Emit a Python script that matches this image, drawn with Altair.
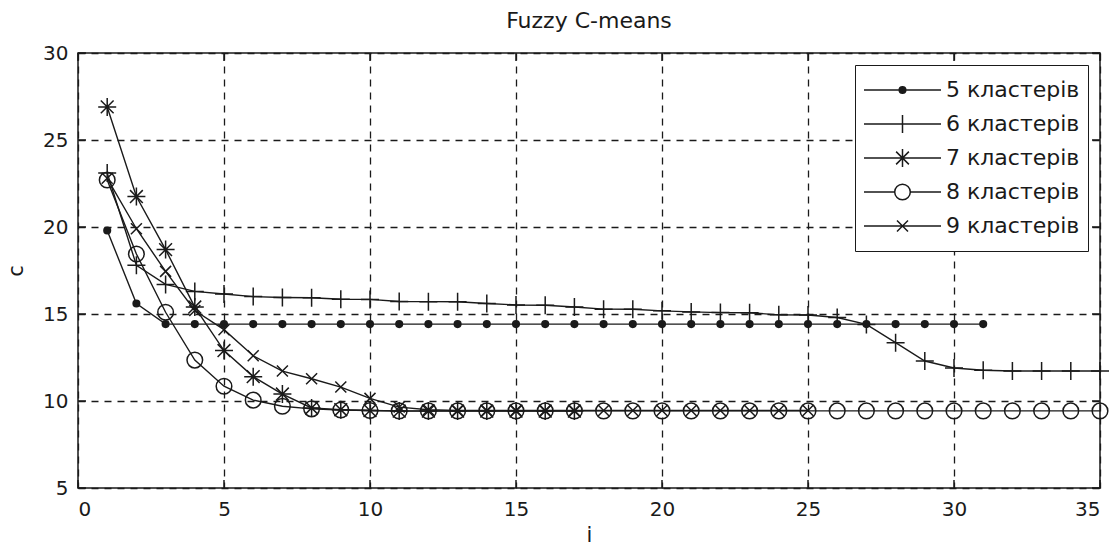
import altair as alt
import pandas as pd

# ---------------- data ----------------
series_names = ["5 кластерів", "6 кластерів", "7 кластерів", "8 кластерів", "9 кластерів"]

iter_5 = list(range(1, 32))
vals_5 = [19.8, 15.6, 14.42, 14.42, 14.42, 14.42, 14.42, 14.42, 14.42, 14.42,
          14.42, 14.42, 14.42, 14.42, 14.42, 14.42, 14.42, 14.42, 14.42, 14.42,
          14.42, 14.42, 14.42, 14.42, 14.42, 14.42, 14.42, 14.42, 14.42, 14.42,
          14.42]

iter_6 = list(range(1, 36))
vals_6 = [23.1, 17.8, 16.7, 16.3, 16.15, 16.0, 15.95, 15.93, 15.85, 15.84,
          15.72, 15.71, 15.7, 15.6, 15.52, 15.5, 15.4, 15.28, 15.27, 15.18,
          15.12, 15.08, 15.07, 14.95, 14.94, 14.8, 14.4, 13.35, 12.3, 11.9,
          11.77, 11.72, 11.72, 11.72, 11.72]

iter_7 = list(range(1, 18))
vals_7 = [26.9, 21.75, 18.7, 15.4, 12.9, 11.4, 10.4, 9.6, 9.5, 9.45,
          9.42, 9.42, 9.42, 9.42, 9.42, 9.42, 9.42]

iter_8 = list(range(1, 36))
vals_8 = [22.7, 18.45, 15.1, 12.35, 10.85, 10.05, 9.7, 9.55, 9.48, 9.45,
          9.43, 9.43, 9.43, 9.43, 9.43, 9.43, 9.43, 9.43, 9.43, 9.43,
          9.43, 9.43, 9.43, 9.43, 9.43, 9.43, 9.43, 9.43, 9.43, 9.43,
          9.43, 9.43, 9.43, 9.43, 9.43]

iter_9 = list(range(1, 26))
vals_9 = [22.8, 19.9, 17.45, 15.2, 14.1, 12.6, 11.72, 11.28, 10.8, 10.15,
          9.65, 9.5, 9.45, 9.45, 9.45, 9.45, 9.45, 9.45, 9.45, 9.45,
          9.45, 9.45, 9.45, 9.45, 9.45]

x_ticks = [0, 5, 10, 15, 20, 25, 30, 35]
y_ticks = [5, 10, 15, 20, 25, 30]

# ---------------- marker shapes (unit paths) ----------------
def ring(r):
    return f"M{-r},0A{r},{r} 0 1,0 {r},0A{r},{r} 0 1,0 {-r},0Z"

marker_paths = [
    ring(0.33) + ring(0.2) + ring(0.08),
    "M-0.9,0H0.9M0,-0.9V0.9",
    "M-0.9,0H0.9M0,-0.9V0.9M-0.64,-0.64L0.64,0.64M-0.64,0.64L0.64,-0.64",
    ring(0.78),
    "M-0.55,-0.55L0.55,0.55M-0.55,0.55L0.55,-0.55",
]
k = 10 / 38.5
legend_paths = [
    "M-1,0H1" + ring(0.33 * k) + ring(0.2 * k) + ring(0.08 * k),
    f"M-1,0H1M0,{-0.9*k}V{0.9*k}",
    f"M-1,0H1M0,{-0.9*k}V{0.9*k}M{-0.64*k},{-0.64*k}L{0.64*k},{0.64*k}M{-0.64*k},{0.64*k}L{0.64*k},{-0.64*k}",
    "M-1,0H" + str(-0.78 * k) + ring(0.78 * k) + "M" + str(0.78 * k) + ",0H1",
    f"M-1,0H1M{-0.55*k},{-0.55*k}L{0.55*k},{0.55*k}M{-0.55*k},{0.55*k}L{0.55*k},{-0.55*k}",
]

rows = []
for name, its, vals in zip(series_names,
                           [iter_5, iter_6, iter_7, iter_8, iter_9],
                           [vals_5, vals_6, vals_7, vals_8, vals_9]):
    for i, v in zip(its, vals):
        rows.append({"i": i, "c": v, "series": name})
df = pd.DataFrame(rows)
xt = pd.DataFrame({"i": x_ticks})
yt = pd.DataFrame({"c": y_ticks})

FONT = "DejaVu Sans, Liberation Sans, Arial, sans-serif"
W, H = 1022, 435
INK = "#1a1a1a"

xscale = alt.Scale(domain=[0, 35], nice=False, zero=False)
yscale = alt.Scale(domain=[5, 30], nice=False, zero=False)
xaxis = alt.Axis(values=x_ticks, title="i", labelPadding=11, titlePadding=5,
                 grid=True, ticks=False, domain=False)
yaxis = alt.Axis(values=y_ticks, title="c", labelPadding=10, titlePadding=16,
                 grid=True, ticks=False, domain=False)

def X(field="i"):
    return alt.X(f"{field}:Q", scale=xscale, axis=xaxis, title="i")

def Y(field="c"):
    return alt.Y(f"{field}:Q", scale=yscale, axis=yaxis, title="c")

base = alt.Chart(df)

lines = base.mark_line(color=INK, strokeWidth=1.4).encode(
    x=X(), y=Y(), detail="series:N", order="i:Q"
)

points = base.mark_point(filled=False, size=400, strokeWidth=1.5, color=INK, opacity=1).encode(
    x=X(), y=Y(),
    shape=alt.Shape("series:N", scale=alt.Scale(domain=series_names, range=marker_paths), legend=None),
)

legend_layer = base.mark_point(filled=False, size=5929, strokeWidth=1.5, color=INK,
                               opacity=0, clip=True).encode(
    x=X(), y=Y(),
    shape=alt.Shape(
        "series:N",
        scale=alt.Scale(domain=series_names, range=legend_paths),
        legend=alt.Legend(
            title=None, orient="top-right", offset=12,
            symbolSize=5929, symbolStrokeWidth=1.5, symbolOpacity=1,
            symbolStrokeColor=INK, symbolFillColor="transparent",
            clipHeight=34, padding=8, rowPadding=0,
            strokeColor=INK, fillColor="white",
            labelFontSize=22, labelFont=FONT, labelColor=INK, labelOffset=4,
            labelLimit=300,
        ),
    ),
)

tick_bottom = alt.Chart(xt).mark_rule(color=INK, strokeWidth=1.5).encode(
    x=X(), y=alt.value(H), y2=alt.value(H - 8))
tick_top = alt.Chart(xt).mark_rule(color=INK, strokeWidth=1.5).encode(
    x=X(), y=alt.value(0), y2=alt.value(8))
tick_left = alt.Chart(yt).mark_rule(color=INK, strokeWidth=1.5).encode(
    y=Y(), x=alt.value(0), x2=alt.value(8))
tick_right = alt.Chart(yt).mark_rule(color=INK, strokeWidth=1.5).encode(
    y=Y(), x=alt.value(W), x2=alt.value(W - 8))

chart = alt.layer(
    tick_bottom, tick_top, tick_left, tick_right, lines, points, legend_layer
).resolve_scale(
    shape="independent"
).properties(
    width=W, height=H,
    background="white",
    title=alt.TitleParams("Fuzzy C-means", fontSize=22, font=FONT, fontWeight="normal",
                          color=INK, offset=10, anchor="middle", frame="group"),
    autosize=alt.AutoSizeParams(type="none"),
    padding={"left": 78, "top": 53, "right": 18, "bottom": 60},
).configure_view(
    stroke=INK, strokeWidth=1.5
).configure_axis(
    labelFont=FONT, labelFontSize=20, labelColor=INK,
    titleFont=FONT, titleFontSize=21, titleColor=INK, titleFontWeight="normal",
    gridColor=INK, gridDash=[7, 6], gridWidth=1.3, gridOpacity=1,
)

chart.save("out.html", embed_options={"renderer": "svg", "actions": False})
